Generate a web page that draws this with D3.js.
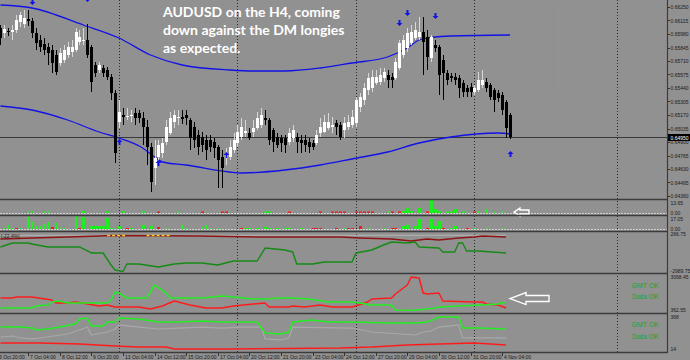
<!DOCTYPE html>
<html>
<head>
<meta charset="utf-8">
<script src="https://cdn.jsdelivr.net/npm/d3@7"></script>
<style>
body { margin: 0; background: #919191; }
svg { display: block; }
</style>
</head>
<body>
<div id="chart"></div>
<script>
// ---- price candles (H4), one per bar ----
var opens = [0.6604,0.6599,0.6601,0.6600,0.6602,0.6610,0.6608,0.6613,0.6611,0.6599,
0.6592,0.6588,0.6585,0.6582,0.6577,0.6569,0.6572,0.6577,0.6580,0.6582,
0.6590,0.6592,0.6592,0.6585,0.6567,0.6562,0.6564,0.6562,0.6555,0.6539,
0.6510,0.6517,0.6515,0.6516,0.6519,0.6519,0.6514,0.6505,0.6485,0.6464,
0.6475,0.6479,0.6490,0.6499,0.6510,0.6514,0.6515,0.6517,0.6512,0.6505,
0.6497,0.6495,0.6492,0.6492,0.6490,0.6485,0.6475,0.6474,0.6475,0.6482,
0.6489,0.6495,0.6499,0.6499,0.6500,0.6504,0.6507,0.6514,0.6512,0.6502,
0.6495,0.6494,0.6494,0.6490,0.6494,0.6495,0.6492,0.6492,0.6490,0.6489,
0.6489,0.6499,0.6500,0.6504,0.6505,0.6509,0.6507,0.6502,0.6505,0.6507,
0.6509,0.6525,0.6532,0.6542,0.6544,0.6549,0.6550,0.6554,0.6557,0.6555,
0.6554,0.6564,0.6577,0.6584,0.6589,0.6594,0.6595,0.6600,0.6595,0.6574,
0.6587,0.6585,0.6572,0.6559,0.6556,0.6555,0.6554,0.6549,0.6544,0.6545,
0.6540,0.6542,0.6547,0.6550,0.6547,0.6542,0.6539,0.6537,0.6530,0.6517];
var highs = [0.6607,0.6607,0.6604,0.6607,0.6617,0.6620,0.6622,0.6622,0.6614,0.6604,
0.6597,0.6594,0.6589,0.6587,0.6582,0.6584,0.6587,0.6590,0.6592,0.6604,
0.6602,0.6604,0.6608,0.6587,0.6570,0.6570,0.6567,0.6565,0.6558,0.6542,
0.6532,0.6524,0.6524,0.6522,0.6524,0.6522,0.6520,0.6512,0.6489,0.6492,
0.6492,0.6494,0.6512,0.6520,0.6522,0.6522,0.6522,0.6522,0.6514,0.6510,
0.6502,0.6500,0.6497,0.6497,0.6494,0.6487,0.6482,0.6484,0.6492,0.6499,
0.6507,0.6514,0.6512,0.6504,0.6512,0.6520,0.6524,0.6522,0.6514,0.6504,
0.6499,0.6497,0.6497,0.6504,0.6507,0.6499,0.6497,0.6497,0.6494,0.6492,
0.6502,0.6514,0.6517,0.6519,0.6515,0.6512,0.6510,0.6515,0.6517,0.6522,
0.6535,0.6539,0.6549,0.6559,0.6562,0.6562,0.6564,0.6564,0.6562,0.6559,
0.6574,0.6592,0.6597,0.6604,0.6607,0.6610,0.6615,0.6615,0.6602,0.6597,
0.6592,0.6587,0.6577,0.6562,0.6559,0.6559,0.6557,0.6552,0.6547,0.6549,
0.6547,0.6560,0.6562,0.6554,0.6549,0.6544,0.6542,0.6540,0.6532,0.6519];
var lows = [0.6587,0.6594,0.6596,0.6592,0.6599,0.6605,0.6604,0.6606,0.6594,0.6582,
0.6580,0.6577,0.6567,0.6559,0.6557,0.6566,0.6569,0.6574,0.6575,0.6580,
0.6587,0.6587,0.6574,0.6540,0.6555,0.6559,0.6555,0.6552,0.6532,0.6469,
0.6504,0.6507,0.6512,0.6510,0.6507,0.6509,0.6487,0.6467,0.6440,0.6447,
0.6470,0.6474,0.6487,0.6497,0.6504,0.6507,0.6508,0.6507,0.6482,0.6484,
0.6477,0.6480,0.6472,0.6480,0.6474,0.6444,0.6444,0.6467,0.6472,0.6479,
0.6485,0.6492,0.6495,0.6492,0.6495,0.6502,0.6504,0.6507,0.6487,0.6480,
0.6484,0.6480,0.6479,0.6487,0.6490,0.6479,0.6479,0.6480,0.6479,0.6482,
0.6487,0.6495,0.6499,0.6502,0.6499,0.6497,0.6492,0.6494,0.6502,0.6504,
0.6505,0.6520,0.6527,0.6537,0.6540,0.6547,0.6547,0.6550,0.6544,0.6544,
0.6552,0.6562,0.6574,0.6580,0.6587,0.6592,0.6592,0.6557,0.6562,0.6570,
0.6580,0.6537,0.6532,0.6547,0.6550,0.6547,0.6534,0.6535,0.6535,0.6535,
0.6537,0.6540,0.6544,0.6540,0.6532,0.6520,0.6530,0.6517,0.6494,0.6493];
var closes = [0.6594,0.6603,0.6600,0.6602,0.6612,0.6617,0.6614,0.6611,0.6599,0.6589,
0.6585,0.6582,0.6579,0.6569,0.6560,0.6579,0.6582,0.6585,0.6585,0.6600,
0.6595,0.6592,0.6577,0.6550,0.6559,0.6567,0.6559,0.6555,0.6539,0.6479,
0.6520,0.6515,0.6516,0.6517,0.6514,0.6514,0.6505,0.6485,0.6450,0.6474,
0.6487,0.6489,0.6505,0.6514,0.6517,0.6515,0.6513,0.6514,0.6494,0.6492,
0.6485,0.6487,0.6482,0.6485,0.6484,0.6472,0.6464,0.6479,0.6485,0.6492,
0.6500,0.6505,0.6501,0.6494,0.6504,0.6514,0.6517,0.6512,0.6492,0.6490,
0.6487,0.6489,0.6487,0.6499,0.6502,0.6490,0.6489,0.6487,0.6485,0.6485,
0.6497,0.6505,0.6510,0.6510,0.6507,0.6505,0.6495,0.6509,0.6510,0.6515,
0.6532,0.6535,0.6544,0.6554,0.6555,0.6555,0.6557,0.6560,0.6552,0.6552,
0.6570,0.6589,0.6592,0.6599,0.6600,0.6602,0.6600,0.6590,0.6575,0.6595,
0.6584,0.6557,0.6559,0.6552,0.6554,0.6552,0.6544,0.6540,0.6540,0.6540,
0.6544,0.6552,0.6552,0.6544,0.6535,0.6532,0.6534,0.6522,0.6504,0.6495];

// blue bands (bar index, price)
var upperIdx = [0,8,21,30,38,46,58,64,72,81,89,98,103,106,110,114,129];
var upperVal = [0.6627,0.6624,0.6607,0.6594,0.6577,0.6567,0.6562,0.6561,0.6561,0.6564,0.6569,0.6575,0.6584,0.6592,0.6595,0.6596,0.6597];
var lowerIdx = [0,8,17,25,30,36,39,41,47,58,61,72,81,89,98,106,114,126,129];
var lowerVal = [0.6526,0.6522,0.6512,0.6500,0.6494,0.6484,0.6475,0.6470,0.6467,0.6460,0.6459,0.6462,0.6467,0.6473,0.6480,0.6489,0.6495,0.6499,0.6498];

// signal arrows
var upArrowIdx = [30, 40, 57, 129];
var upArrowPrice = [0.6490, 0.6469, 0.6477, 0.6478];
var downArrowIdx = [8, 22, 101, 103, 110];
var downArrowPrice = [0.6630, 0.6633, 0.6609, 0.6619, 0.6616];

// volume-type histograms: [bar, value], negative = red
var vol1 = [[7,1.6],[8,1.6],[11,1.6],[12,1.6],[21,2.1],[27,1.6],[31,1.6],[36,1.6],[40,-1.6],[45,1.6],[51,-1.6],[56,-1.6],[57,-1.6],[67,1.6],[68,1.6],[73,-1.6],[81,-1.6],[84,-1.6],[85,-1.6],[86,-1.6],[87,-1.6],[90,-1.6],[91,-1.6],[92,-1.6],[93,-1.6],[94,-1.6],[98,1.6],[99,-1.6],[101,-1.6],[102,2.1],[103,5.2],[104,2.1],[106,5.2],[108,-1.6],[109,13.6],[110,4.2],[111,2.1],[113,1.6],[114,1.6],[115,4.2],[117,1.6],[120,-1.6],[121,1.6],[123,4.2],[125,1.6],[127,1.6]];
var vol2 = [[1,1.3],[2,5.2],[3,1.3],[4,-1.3],[5,1.3],[7,15.7],[8,9.2],[9,3.9],[10,3.9],[11,6.6],[12,9.2],[13,-2.6],[14,7.9],[15,1.3],[16,1.3],[19,17.0],[20,-1.3],[21,15.7],[23,3.9],[24,3.9],[25,3.9],[26,3.9],[27,14.4],[28,1.3],[30,3.9],[32,-1.3],[33,1.3],[36,5.2],[38,3.9],[40,-2.6],[42,1.3],[46,5.2],[47,1.3],[51,2.6],[52,5.2],[53,1.3],[55,1.3],[61,-1.3],[62,1.3],[63,1.3],[65,1.3],[67,2.6],[68,1.3],[70,1.3],[72,1.3],[73,1.3],[76,1.3],[79,-1.3],[80,-1.3],[81,-1.3],[85,-1.3],[87,1.3],[88,-1.3],[89,-1.3],[91,-3.9],[93,1.3],[97,1.3],[99,-1.3],[100,-1.3],[102,3.9],[103,5.2],[105,3.9],[106,13.1],[108,-1.3],[109,13.1],[110,3.9],[111,10.5],[112,-1.3],[114,1.3],[115,3.9],[118,-1.3],[120,1.3],[123,1.3],[127,1.3]];

// panel 4 (net positioning)
var p4GreenIdx = [0,3,7,8,12,17,20,23,26,28,29,31,32,35,40,44,47,51,55,59,65,67,72,74,75,79,82,89,90,94,97,99,103,105,106,111,112,115,116,117,118,121,128];
var p4GreenVal = [-902,-568,-568,-652,-902,-902,-902,-1403,-1403,-2405,-2823,-2950,-2322,-2322,-2572,-2322,-2238,-2238,-2405,-2071,-2071,-986,-1153,-1320,-2322,-2322,-2155,-2155,-1403,-1153,-735,-485,-568,-485,-902,-986,-1320,-1320,-568,-568,-1236,-1236,-1403];
var p4RedIdx = [0,8,17,25,28,50,65,86,91,99,104,108,111,116,120,122,128];
var p4RedVal = [-234,-151,-67,17,58,17,-67,-67,-151,-234,-401,-234,-318,-151,-67,17,-67];
var p4GreyIdx = [0, 128];
var p4GreyVal = [75, 75];
var p4YellowSpans = [[27, 32], [37, 43]];

// panel 5
var p5RedIdx = [0,3,4,8,13,14,17,19,22,25,27,29,35,38,41,44,45,48,52,56,59,64,67,68,73,74,77,81,84,89,93,94,99,100,103,104,106,107,108,111,112,120,122,123,126,128];
var p5RedVal = [1347,1347,1428,1428,1182,936,936,1018,854,690,772,608,608,444,690,1100,1018,772,526,526,690,854,936,608,608,690,608,772,608,608,1018,1264,1347,1675,2412,3068,2986,1756,1675,1756,1100,1018,1018,854,772,526];
var p5GreenIdx = [0,8,9,12,13,15,17,27,28,29,30,32,37,39,42,43,51,56,59,64,68,70,74,78,83,89,91,94,99,100,105,110,111,116,122,126,128];
var p5GreenVal = [526,526,690,772,1018,1100,936,936,1182,1838,1756,1347,1347,2412,1756,1347,1347,1510,1428,1264,1264,1347,1347,1264,1018,1018,936,772,772,362,340,526,608,690,772,854,1018];

// panel 6
var p6GreenIdx = [0,5,8,9,12,15,19,20,22,23,26,27,29,30,35,40,45,51,56,61,65,67,71,73,74,79,83,89,99,105,108,110,111,116,117,121,128];
var p6GreenVal = [257,257,246,224,235,257,291,346,357,268,268,313,313,357,346,313,313,324,313,313,313,191,180,202,313,335,313,313,302,302,313,346,368,368,246,246,235];
var p6GreyIdx = [0,3,5,8,10,17,20,22,23,27,29,30,35,40,45,51,56,61,66,67,71,73,74,89,94,105,107,109,111,116,117,121,128];
var p6GreyVal = [147,158,136,125,136,180,224,257,169,202,235,280,257,235,246,257,246,257,257,125,114,136,257,246,202,169,202,213,257,280,136,136,136];
var p6RedIdx = [0,10,20,29,35,42,44,59,86,94,103,111,120,128];
var p6RedVal = [80,80,69,47,36,36,14,14,25,36,58,69,80,58];

// axes
var priceTicks = [0.66250,0.66115,0.65980,0.65845,0.65710,0.65575,0.65440,0.65305,0.65170,0.65035,0.64900,0.64765,0.64630,0.64495,0.64360];
var dateLabels = ["3 Oct 20:00","7 Oct 04:00","8 Oct 12:00","9 Oct 20:00","13 Oct 04:00","14 Oct 12:00","15 Oct 20:00","17 Oct 04:00","20 Oct 12:00","21 Oct 20:00","23 Oct 04:00","24 Oct 12:00","27 Oct 20:00","29 Oct 04:00","30 Oct 12:00","31 Oct 20:00","4 Nov 04:00"];
var firstLabelBar = -1, labelStep = 8;
var weekBars = [30, 60, 90, 120, 156];
var vol1Range = [0, 13.65], vol2Range = [0, 17.05];
var p4Range = [-2989.75, 266.75], p5Range = [362.55, 3068.45], p6Range = [14, 368];
var titleLines = ["AUDUSD on the H4, coming", "down against the DM longies", "as expected."];

var width = 690, height = 360, plotR = 667;
var bg = "#919191", frame = "#3c3c3c", axisText = "#1a1a1a";

var svg = d3.select("#chart").append("svg")
    .attr("width", width).attr("height", height)
    .style("font-family", "'Liberation Sans', Arial, sans-serif");
svg.append("rect").attr("width", width).attr("height", height).attr("fill", bg);

var x = d3.scaleLinear().domain([0, 129]).range([0.45, 510]);
function px(i) { return Math.round(x(i)); }

// panels: [top, bottom]
var panels = {
    main: [0, 199], v1: [200, 215], v2: [216, 231], p4: [232, 273], p5: [274, 313], p6: [314, 352]
};
var defs = svg.append("defs");
Object.keys(panels).forEach(function(k) {
    defs.append("clipPath").attr("id", "clip-" + k).append("rect")
        .attr("x", 0).attr("y", panels[k][0]).attr("width", plotR).attr("height", panels[k][1] - panels[k][0]);
});
function layer(k) { return svg.append("g").attr("clip-path", "url(#clip-" + k + ")"); }

var yMain = d3.scaleLinear().domain([0.6433, 0.6632]).range([199, 0]);
var yV1 = d3.scaleLinear().domain(vol1Range).range([213, 200]);
var yV2 = d3.scaleLinear().domain(vol2Range).range([229, 216]);
var yP4 = d3.scaleLinear().domain(p4Range).range([272, 233]);
var yP5 = d3.scaleLinear().domain(p5Range).range([310, 277]);
var yP6 = d3.scaleLinear().domain(p6Range).range([349, 317]);

// weekly dotted separators
var grid = svg.append("g");
grid.selectAll("line").data(weekBars).enter().append("line")
    .attr("x1", function(d) { return px(d) + 0.5; })
    .attr("x2", function(d) { return px(d) + 0.5; })
    .attr("y1", 0).attr("y2", 352)
    .attr("stroke", "#2a2a2a").attr("stroke-width", 1)
    .attr("stroke-dasharray", "1,2");
// faint green dotted marker in the future area
grid.append("line").attr("x1", px(140) + 0.5).attr("x2", px(140) + 0.5)
    .attr("y1", 5).attr("y2", 93).attr("stroke", "#4fa04f")
    .attr("stroke-width", 1).attr("stroke-dasharray", "1,3").attr("opacity", 0.7);

// ---------- main panel ----------
var main = layer("main");
var last = closes[closes.length - 1];
main.append("line").attr("x1", 0).attr("x2", plotR)
    .attr("y1", Math.round(yMain(last)) + 0.5).attr("y2", Math.round(yMain(last)) + 0.5)
    .attr("stroke", "#3a3a3a").attr("stroke-width", 1);

var bandLine = d3.line().curve(d3.curveMonotoneX)
    .x(function(d) { return x(d[0]); }).y(function(d) { return yMain(d[1]); });
main.append("path").datum(d3.zip(upperIdx, upperVal)).attr("d", bandLine)
    .attr("fill", "none").attr("stroke", "#1212e6").attr("stroke-width", 1.3);
main.append("path").datum(d3.zip(lowerIdx, lowerVal)).attr("d", bandLine)
    .attr("fill", "none").attr("stroke", "#1212e6").attr("stroke-width", 1.3);

var candles = d3.range(closes.length).map(function(i) {
    return { i: i, o: opens[i], h: highs[i], l: lows[i], c: closes[i] };
});
main.selectAll(".wick").data(candles).enter().append("line")
    .attr("class", "wick")
    .attr("x1", function(d) { return px(d.i) + 0.5; })
    .attr("x2", function(d) { return px(d.i) + 0.5; })
    .attr("y1", function(d) { return yMain(d.h); })
    .attr("y2", function(d) { return yMain(d.l); })
    .attr("stroke", function(d) { return d.c >= d.o ? "#d8d8d8" : "#000"; })
    .attr("stroke-width", 1);
main.selectAll(".body").data(candles).enter().append("rect")
    .attr("class", "body")
    .attr("x", function(d) { return px(d.i) - 1; })
    .attr("width", 3)
    .attr("y", function(d) { return yMain(Math.max(d.o, d.c)); })
    .attr("height", function(d) { return Math.max(1, Math.abs(yMain(d.o) - yMain(d.c))); })
    .attr("fill", function(d) { return d.c >= d.o ? "#fff" : "#000"; });

function arrowPath(cx, cy, dir) {
    // dir = -1 up, +1 down ; tip at cy
    var p = d3.path();
    p.moveTo(cx, cy);
    p.lineTo(cx - 3, cy - dir * 3);
    p.lineTo(cx - 1, cy - dir * 3);
    p.lineTo(cx - 1, cy - dir * 6);
    p.lineTo(cx + 1, cy - dir * 6);
    p.lineTo(cx + 1, cy - dir * 3);
    p.lineTo(cx + 3, cy - dir * 3);
    p.closePath();
    return p.toString();
}
main.selectAll(".up").data(d3.zip(upArrowIdx, upArrowPrice)).enter().append("path")
    .attr("d", function(d) { return arrowPath(px(d[0]) + 0.5, yMain(d[1]) - 3, -1); })
    .attr("fill", "#1212e6");
main.selectAll(".down").data(d3.zip(downArrowIdx, downArrowPrice)).enter().append("path")
    .attr("d", function(d) { return arrowPath(px(d[0]) + 0.5, yMain(d[1]) + 3, 1); })
    .attr("fill", "#1212e6");

var title = svg.append("text").attr("x", 163).attr("y", 17)
    .attr("fill", "#fff").style("font-family", "Lato, 'Open Sans', sans-serif")
    .style("font-weight", "bold").style("font-size", "14px");
title.selectAll("tspan").data(titleLines).enter().append("tspan")
    .attr("x", 163).attr("dy", function(d, i) { return i === 0 ? 0 : 18; })
    .text(function(d) { return d; });

// ---------- histogram panels ----------
function histogram(k, data, yS, dashY) {
    var g = layer(k);
    g.append("line").attr("x1", 0).attr("x2", plotR).attr("y1", dashY).attr("y2", dashY)
        .attr("stroke", "#d2d2d2").attr("stroke-width", 1).attr("stroke-dasharray", "2,1");
    g.selectAll("rect").data(data).enter().append("rect")
        .attr("x", function(d) { return px(d[0]) - 1; })
        .attr("width", 3)
        .attr("y", function(d) { return yS(Math.abs(d[1])); })
        .attr("height", function(d) { return yS(0) - yS(Math.abs(d[1])); })
        .attr("fill", function(d) { return d[1] >= 0 ? "#1cf01c" : "#ee1c1c"; });
    return g;
}
var gV1 = histogram("v1", vol1, yV1, 213.5);
var gV2 = histogram("v2", vol2, yV2, 229.5);

// ---------- line panels ----------
function series(g, idx, val, yS, color, w) {
    var ln = d3.line().x(function(d) { return x(d[0]); }).y(function(d) { return yS(d[1]); });
    return g.append("path").datum(d3.zip(idx, val)).attr("d", ln)
        .attr("fill", "none").attr("stroke", color).attr("stroke-width", w)
        .attr("stroke-linejoin", "round");
}
var g4 = layer("p4");
series(g4, p4GreyIdx, p4GreyVal, yP4, "#b4b4b4", 1);
series(g4, p4RedIdx, p4RedVal, yP4, "#8e1414", 1.3);
g4.selectAll(".yl").data(p4YellowSpans).enter().append("line")
    .attr("x1", function(d) { return x(d[0]); }).attr("x2", function(d) { return x(d[1]); })
    .attr("y1", yP4(58)).attr("y2", yP4(58))
    .attr("stroke", "#f0d020").attr("stroke-width", 1.5).attr("stroke-dasharray", "3,2");
series(g4, p4GreenIdx, p4GreenVal, yP4, "#168a16", 1.4);
g4.append("text").attr("x", 1).attr("y", 238).attr("fill", "#202020")
    .style("font-size", "5px").text("[-22.4%]");

var g5 = layer("p5");
series(g5, p5RedIdx, p5RedVal, yP5, "#ff1c1c", 1.5);
series(g5, p5GreenIdx, p5GreenVal, yP5, "#22ee22", 1.5);

var g6 = layer("p6");
series(g6, p6GreyIdx, p6GreyVal, yP6, "#a8a8a8", 1.2);
series(g6, p6RedIdx, p6RedVal, yP6, "#ff1c1c", 1.5);
series(g6, p6GreenIdx, p6GreenVal, yP6, "#22ee22", 1.5);

[[g5, 288, "GMT OK"], [g5, 299, "Data OK"], [g6, 327, "GMT OK"], [g6, 339, "Data OK"]].forEach(function(t) {
    t[0].append("text").attr("x", 659).attr("y", t[1]).attr("text-anchor", "end")
        .attr("fill", "#1fa51f").style("font-size", "7px").text(t[2]);
});

// white outline annotation arrows (anchored at bar / value)
function bigArrow(g, tipX, tipY, headLen, headH, shaftH, len) {
    var p = d3.path();
    p.moveTo(tipX, tipY);
    p.lineTo(tipX + headLen, tipY - headH);
    p.lineTo(tipX + headLen, tipY - shaftH);
    p.lineTo(tipX + len, tipY - shaftH);
    p.lineTo(tipX + len, tipY + shaftH);
    p.lineTo(tipX + headLen, tipY + shaftH);
    p.lineTo(tipX + headLen, tipY + headH);
    p.closePath();
    g.append("path").attr("d", p.toString()).attr("fill", "none")
        .attr("stroke", "#fff").attr("stroke-width", 1.4).attr("stroke-linejoin", "miter");
}
bigArrow(svg, x(130), yV1(1), 6, 4, 2, 15);
bigArrow(svg, x(129), yP5(1300), 16, 6, 3, 39);

// ---------- frames ----------
var frames = svg.append("g");
[199.5, 215.5, 231.5, 273.5, 313.5, 352.5].forEach(function(yy) {
    frames.append("line").attr("x1", 0).attr("x2", plotR).attr("y1", yy).attr("y2", yy)
        .attr("stroke", frame).attr("stroke-width", 1.6);
});
frames.append("line").attr("x1", plotR + 0.5).attr("x2", plotR + 0.5).attr("y1", 0).attr("y2", 353)
    .attr("stroke", frame).attr("stroke-width", 1.2);

// ---------- right axis ----------
var ax = svg.append("g").style("font-size", "5px").attr("fill", axisText);
ax.selectAll(".pt").data(priceTicks).enter().append("text")
    .attr("x", 670.5).attr("y", function(d) { return yMain(d) + 2; })
    .text(function(d) { return d.toFixed(5); });
ax.selectAll(".ptk").data(priceTicks).enter().append("line")
    .attr("x1", plotR + 1).attr("x2", plotR + 3)
    .attr("y1", function(d) { return Math.round(yMain(d)) + 0.5; })
    .attr("y2", function(d) { return Math.round(yMain(d)) + 0.5; })
    .attr("stroke", axisText).attr("stroke-width", 0.8);
ax.append("rect").attr("x", plotR + 1).attr("y", Math.round(yMain(last)) - 3)
    .attr("width", 22).attr("height", 7).attr("fill", "#000");
ax.append("text").attr("x", 670.5).attr("y", Math.round(yMain(last)) + 2.5)
    .attr("fill", "#fff").text(last.toFixed(5));

var subLabels = [
    [yV1(vol1Range[1]) + 3, "13.65"], [yV1(vol1Range[0]), "0.00"],
    [yV2(vol2Range[1]) + 3, "17.05"], [yV2(vol2Range[0]), "0.00"],
    [yP4(p4Range[1]) + 1, "266.75"], [yP4(p4Range[0]) - 1, "-2989.75"],
    [yP5(p5Range[1]), "3068.45"], [yP5(p5Range[0]), "362.55"],
    [yP6(p6Range[1]), "368"], [yP6(p6Range[0]), "14"]
];
ax.selectAll(".sl").data(subLabels).enter().append("text")
    .attr("x", 670.5).attr("y", function(d) { return d[0] + 2; })
    .text(function(d) { return d[1]; });

// ---------- bottom time axis ----------
var tx = svg.append("g").style("font-size", "5px").attr("fill", axisText);
var dl = dateLabels.map(function(t, k) { return [firstLabelBar + k * labelStep, t]; });
tx.selectAll("line").data(dl).enter().append("line")
    .attr("x1", function(d) { return px(d[0]) + 0.5; })
    .attr("x2", function(d) { return px(d[0]) + 0.5; })
    .attr("y1", 353).attr("y2", 356)
    .attr("stroke", axisText).attr("stroke-width", 0.8);
tx.selectAll("text").data(dl).enter().append("text")
    .attr("x", function(d) { return px(d[0]) + 2; })
    .attr("y", 358.5)
    .text(function(d) { return d[1]; });
</script>
</body>
</html>
